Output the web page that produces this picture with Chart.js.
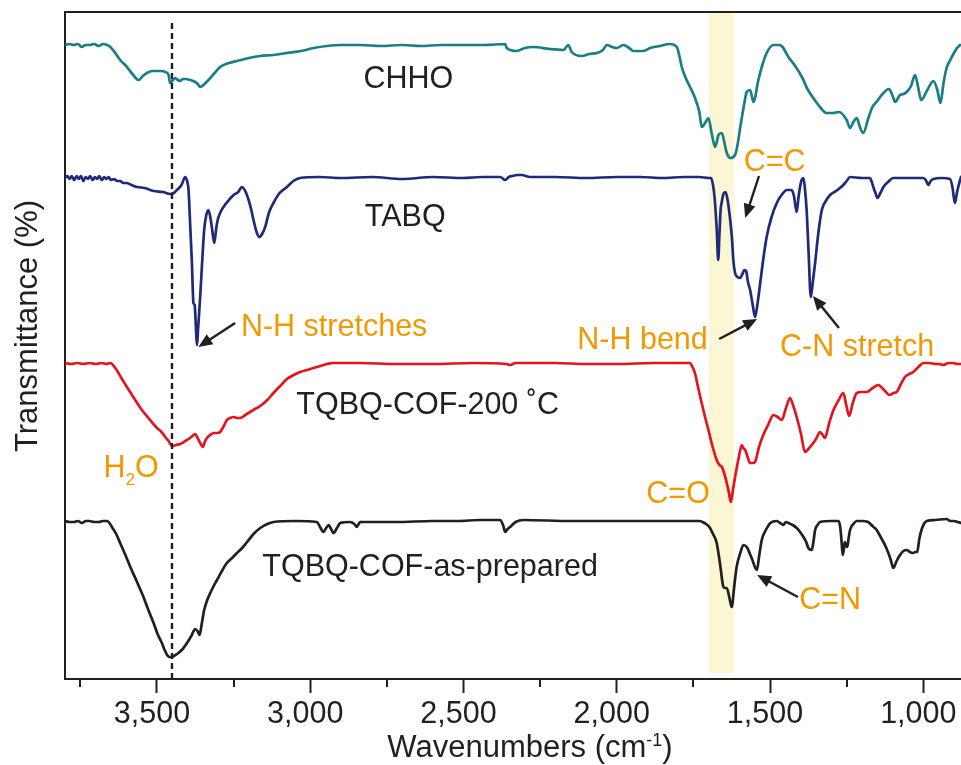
<!DOCTYPE html>
<html>
<head>
<meta charset="utf-8">
<script src="https://cdn.jsdelivr.net/npm/chart.js@4.4.1/dist/chart.umd.min.js"></script>
<style>
  html, body { margin: 0; padding: 0; background: #ffffff; overflow: hidden; }
  #wrap { width: 961px; height: 765px; }
</style>
</head>
<body>
<div id="wrap"><canvas id="c" width="961" height="765"></canvas></div>
<script>
// ---- Data (wavenumber cm-1, transmittance in arbitrary offset units) ----
const chho = [[3800,634],[3786,635],[3772,634],[3758,635],[3745,632],[3733,634],[3720,634],[3705,635],[3690,633],[3676,635],[3663,634],[3652,632],[3636,626],[3620,619],[3598,612],[3580,605],[3560,599],[3546,603],[3533,606],[3515,608],[3500,608],[3485,608],[3473,607],[3462,604],[3457,596],[3448,599],[3440,601],[3432,599],[3424,598],[3416,600],[3408,600],[3391,599],[3375,597],[3367,595],[3359,592],[3345,595],[3332,599],[3312,606],[3294,612],[3265,616],[3239,618],[3200,621],[3163,623],[3120,624],[3076,626],[3030,628],[2989,631],[2946,633],[2900,634],[2837,634],[2770,633],[2700,634],[2641,633],[2570,634],[2500,634],[2430,634],[2364,635],[2359,631],[2326,628],[2300,631],[2272,632],[2220,630],[2174,629],[2158,634],[2147,627],[2114,623],[2090,625],[2065,626],[2045,629],[2032,634],[2015,632],[2000,631],[1978,634],[1960,631],[1946,628],[1913,628],[1891,631],[1860,633],[1826,635],[1804,632],[1795,622],[1788,612],[1775,601],[1761,592],[1750,585],[1739,576],[1730,566],[1723,552],[1712,556],[1701,561],[1690,545],[1679,532],[1668,544],[1657,546],[1648,535],[1641,526],[1630,521],[1614,524],[1605,536],[1597,552],[1586,572],[1576,587],[1565,589],[1554,577],[1538,599],[1525,614],[1511,626],[1489,634],[1470,634],[1459,632],[1440,622],[1418,613],[1396,602],[1378,590],[1359,581],[1337,572],[1315,566],[1295,566],[1275,567],[1250,559],[1239,551],[1228,557],[1217,561],[1207,552],[1196,546],[1180,560],[1166,572],[1150,578],[1136,584],[1112,590],[1100,583],[1092,577],[1076,584],[1065,585],[1054,587],[1040,593],[1027,604],[1017,592],[1007,579],[987,589],[967,598],[955,590],[944,576],[934,596],[924,611],[912,619],[900,626],[890,631],[880,634]];

const tabq = [[3800,501],[3792,503],[3785,500],[3778,503],[3770,499],[3762,503],[3755,500],[3748,503],[3740,498],[3733,502],[3725,500],[3718,503],[3710,499],[3702,502],[3695,500],[3688,503],[3680,499],[3672,502],[3665,500],[3658,502],[3650,499],[3640,500],[3630,498],[3620,498],[3610,496],[3600,496],[3583,494],[3565,492],[3540,491],[3511,488],[3480,487],[3457,485],[3445,486],[3435,489],[3420,494],[3408,502],[3400,496],[3397,489],[3391,450],[3386,416],[3381,376],[3377,374],[3373,352],[3370,334],[3365,354],[3359,382],[3352,420],[3346,449],[3339,464],[3332,469],[3326,462],[3321,452],[3313,436],[3308,447],[3304,456],[3294,466],[3283,472],[3265,479],[3250,484],[3235,487],[3223,492],[3212,488],[3201,479],[3193,470],[3185,459],[3175,447],[3166,442],[3157,445],[3147,452],[3135,466],[3120,476],[3100,486],[3076,492],[3055,498],[3033,501],[2970,502],[2900,501],[2800,502],[2700,500],[2600,502],[2500,501],[2440,502],[2380,502],[2364,499],[2352,502],[2341,503],[2325,504],[2310,504],[2283,502],[2200,502],[2100,501],[2000,502],[1924,502],[1850,501],[1780,502],[1730,502],[1700,501],[1692,501],[1686,494],[1681,482],[1674,450],[1669,419],[1665,445],[1661,470],[1658,476],[1652,485],[1645,487],[1639,480],[1631,462],[1624,440],[1620,420],[1614,406],[1606,402],[1598,401],[1590,405],[1584,409],[1578,408],[1572,397],[1565,389],[1557,375],[1549,362],[1541,375],[1532,396],[1522,420],[1511,442],[1495,462],[1478,476],[1460,485],[1445,489],[1429,489],[1422,483],[1413,467],[1407,482],[1402,492],[1397,499],[1391,501],[1386,490],[1380,466],[1374,425],[1367,382],[1360,398],[1353,416],[1342,447],[1331,469],[1318,478],[1304,484],[1280,489],[1261,494],[1250,498],[1239,502],[1200,501],[1174,501],[1168,497],[1163,492],[1156,486],[1150,481],[1140,486],[1130,492],[1115,497],[1098,501],[1050,501],[1000,501],[992,499],[984,494],[976,498],[967,500],[940,501],[913,500],[905,492],[897,476],[891,485],[886,492],[881,498],[877,502]];

const cof200 = [[3800,316],[3780,315],[3760,316],[3740,315],[3720,316],[3700,315],[3680,316],[3665,315],[3652,316],[3636,311],[3618,302],[3598,292],[3575,281],[3554,271],[3528,261],[3500,251],[3485,247],[3473,242],[3462,238],[3451,233],[3438,234],[3424,235],[3412,237],[3402,239],[3388,242],[3375,245],[3369,242],[3364,239],[3357,235],[3350,232],[3344,237],[3337,241],[3326,244],[3315,246],[3304,246],[3294,247],[3282,253],[3272,259],[3261,261],[3250,262],[3238,261],[3228,261],[3212,264],[3196,267],[3180,270],[3163,273],[3140,279],[3120,286],[3098,293],[3076,300],[3054,304],[3033,307],[3000,310],[2967,313],[2945,315],[2924,316],[2880,316],[2837,316],[2720,315],[2600,315],[2470,316],[2360,315],[2348,314],[2330,316],[2200,316],[2100,315],[2000,315],[1880,316],[1761,316],[1753,312],[1745,306],[1735,292],[1723,276],[1712,262],[1701,249],[1688,233],[1674,219],[1665,214],[1657,212],[1649,205],[1641,196],[1634,186],[1628,177],[1621,189],[1614,202],[1603,220],[1592,234],[1587,231],[1581,229],[1573,222],[1565,216],[1556,216],[1549,217],[1536,232],[1522,244],[1505,255],[1489,264],[1475,262],[1462,259],[1448,271],[1435,281],[1424,273],[1413,262],[1399,245],[1386,227],[1375,230],[1364,234],[1350,240],[1337,247],[1328,244],[1321,241],[1307,256],[1293,269],[1276,279],[1261,286],[1252,275],[1242,263],[1230,276],[1217,286],[1200,287],[1185,287],[1165,291],[1147,294],[1128,289],[1109,284],[1098,286],[1087,287],[1073,295],[1060,302],[1046,305],[1033,307],[1016,312],[999,316],[980,316],[960,315],[948,315],[935,314],[918,316],[902,316],[890,315],[877,315]];

const cofPrep = [[3800,158],[3785,157],[3770,157],[3758,158],[3745,156],[3732,158],[3720,158],[3705,157],[3690,157],[3676,158],[3663,158],[3655,156],[3647,152],[3633,145],[3620,136],[3603,124],[3587,112],[3565,97],[3544,82],[3528,69],[3511,56],[3498,45],[3484,36],[3475,29],[3467,24],[3459,22],[3451,22],[3440,24],[3430,26],[3416,30],[3402,36],[3388,43],[3375,50],[3368,48],[3361,44],[3354,55],[3346,69],[3336,79],[3326,86],[3315,93],[3304,99],[3290,107],[3272,116],[3255,121],[3239,126],[3222,131],[3206,137],[3185,145],[3163,151],[3140,155],[3120,157],[3050,158],[2978,157],[2968,152],[2957,147],[2948,151],[2940,154],[2932,150],[2924,146],[2913,151],[2902,156],[2870,157],[2856,155],[2848,152],[2842,155],[2837,157],[2720,157],[2600,158],[2520,158],[2446,159],[2380,159],[2370,153],[2364,147],[2356,150],[2348,152],[2330,157],[2304,159],[2150,158],[2000,158],[1870,158],[1730,158],[1714,156],[1698,152],[1686,145],[1674,136],[1663,115],[1652,92],[1647,91],[1641,91],[1633,82],[1625,72],[1617,92],[1609,112],[1597,126],[1587,134],[1576,132],[1560,121],[1543,109],[1535,124],[1527,139],[1512,150],[1499,156],[1478,158],[1467,156],[1457,154],[1448,157],[1440,156],[1426,154],[1413,151],[1402,147],[1391,142],[1382,137],[1375,131],[1364,129],[1358,138],[1353,149],[1345,154],[1337,157],[1300,158],[1277,158],[1272,154],[1269,146],[1266,135],[1263,124],[1259,130],[1256,137],[1252,134],[1248,132],[1244,140],[1239,149],[1228,155],[1217,158],[1200,158],[1180,157],[1166,153],[1152,149],[1141,143],[1130,137],[1122,132],[1114,126],[1106,119],[1098,111],[1087,118],[1076,124],[1065,128],[1054,129],[1044,127],[1033,126],[1026,127],[1020,127],[1013,140],[1006,149],[998,155],[989,158],[960,159],[924,160],[912,158],[900,158],[888,157],[877,156]];

const xMajorTicks = [3500, 3000, 2500, 2000, 1500, 1000];
const xMinorTicks = [3750, 3250, 2750, 2250, 1750, 1250];
const dashedLine = [[3451, 0], [3451, 659]];
const band = [1699, 1617, 667, 6]; // wn from, wn to, top, bottom

const seriesLabels = [["CHHO", 2680, 602], ["TABQ", 2690, 464], ["TQBQ-COF-200 \u02DAC", 2617, 276], ["TQBQ-COF-as-prepared", 2609, 114]];
const peakLabels = [["C=C", 1485, 519], ["N-H stretches", 2922, 354], ["N-H bend", 1916, 341], ["C-N stretch", 1216, 334], ["C=O", 1800, 187], ["C=N", 1304, 81]];
const waterLabel = [3584, 213];
const arrows = [[1536, 503, 1581, 461], [3245, 356, 3365, 332], [1666, 340, 1542, 360], [1275, 351, 1360, 383], [1409, 82, 1542, 104]];

const FONT = "'Liberation Sans', Arial, Helvetica, sans-serif";
const INK = '#231F20';
const ORANGE = '#F39800';

const toPts = arr => arr.map(p => ({x: p[0], y: p[1]}));

const decor = {
  id: 'decor',
  beforeDatasetsDraw(chart) {
    const {ctx, scales: {x, y}} = chart;
    const x1 = x.getPixelForValue(band[0]), x2 = x.getPixelForValue(band[1]);
    const y1 = y.getPixelForValue(band[2]), y2 = y.getPixelForValue(band[3]);
    ctx.save();
    ctx.fillStyle = '#FBF6D3';
    ctx.fillRect(Math.min(x1, x2), y1, Math.abs(x2 - x1), y2 - y1);
    ctx.restore();
  },
  afterDraw(chart) {
    const {ctx, chartArea: ca, scales: {x, y}} = chart;
    ctx.save();
    // top frame line
    ctx.strokeStyle = INK; ctx.lineWidth = 2;
    ctx.beginPath(); ctx.moveTo(ca.left - 1, ca.top); ctx.lineTo(ca.right, ca.top); ctx.stroke();
    // minor ticks
    xMinorTicks.forEach(v => {
      const px = Math.round(x.getPixelForValue(v));
      ctx.beginPath(); ctx.moveTo(px, ca.bottom); ctx.lineTo(px, ca.bottom + 8); ctx.stroke();
    });
    const size = 30.5;
    const label = (t, w, v, color) => {
      ctx.font = size + 'px ' + FONT;
      ctx.fillStyle = color; ctx.textAlign = 'center'; ctx.textBaseline = 'alphabetic';
      ctx.fillText(t, x.getPixelForValue(w), y.getPixelForValue(v) + 0.358 * size);
    };
    seriesLabels.forEach(l => label(l[0], l[1], l[2], INK));
    peakLabels.forEach(l => label(l[0], l[1], l[2], ORANGE));
    // H2O with subscript
    {
      const cx = x.getPixelForValue(waterLabel[0]);
      const base = y.getPixelForValue(waterLabel[1]) + 0.358 * size;
      ctx.textAlign = 'left'; ctx.fillStyle = ORANGE;
      ctx.font = size + 'px ' + FONT; const wH = ctx.measureText('H').width, wO = ctx.measureText('O').width;
      ctx.font = '17px ' + FONT; const w2 = ctx.measureText('2').width;
      let sx = cx - (wH + w2 + wO) / 2;
      ctx.font = size + 'px ' + FONT; ctx.fillText('H', sx, base); sx += wH;
      ctx.font = '17px ' + FONT; ctx.fillText('2', sx, base + 8); sx += w2;
      ctx.font = size + 'px ' + FONT; ctx.fillText('O', sx, base);
    }
    // arrows
    ctx.strokeStyle = INK; ctx.fillStyle = INK; ctx.lineWidth = 2.4;
    arrows.forEach(a => {
      const x0 = x.getPixelForValue(a[0]), y0 = y.getPixelForValue(a[1]);
      const x1 = x.getPixelForValue(a[2]), y1 = y.getPixelForValue(a[3]);
      const ang = Math.atan2(y1 - y0, x1 - x0);
      const L = 14, H = 6;
      const bx = x1 - L * Math.cos(ang), by = y1 - L * Math.sin(ang);
      ctx.beginPath(); ctx.moveTo(x0, y0); ctx.lineTo(bx + 2 * Math.cos(ang), by + 2 * Math.sin(ang)); ctx.stroke();
      ctx.beginPath();
      ctx.moveTo(x1, y1);
      ctx.lineTo(bx + H * Math.sin(ang), by - H * Math.cos(ang));
      ctx.lineTo(bx - H * Math.sin(ang), by + H * Math.cos(ang));
      ctx.closePath(); ctx.fill();
    });
    // x-axis title with superscript
    {
      ctx.fillStyle = INK; ctx.textAlign = 'left'; ctx.textBaseline = 'alphabetic';
      const base = 757;
      ctx.font = '31px ' + FONT;
      const a = 'Wavenumbers (cm', c = ')';
      const wa = ctx.measureText(a).width, wc = ctx.measureText(c).width;
      ctx.font = '18px ' + FONT; const wb = ctx.measureText('-1').width;
      let sx = 530 - (wa + wb + wc) / 2;
      ctx.font = '31px ' + FONT; ctx.fillText(a, sx, base); sx += wa;
      ctx.font = '18px ' + FONT; ctx.fillText('-1', sx, base - 11); sx += wb;
      ctx.font = '31px ' + FONT; ctx.fillText(c, sx, base);
    }
    // y-axis title
    ctx.translate(37, 326); ctx.rotate(-Math.PI / 2);
    ctx.font = '31px ' + FONT; ctx.fillStyle = INK; ctx.textAlign = 'center'; ctx.textBaseline = 'alphabetic';
    ctx.fillText('Transmittance (%)', 0, 0);
    ctx.restore();
  }
};

const lineDs = (data, color) => ({data: toPts(data), borderColor: color, borderWidth: 2.7, pointRadius: 0, cubicInterpolationMode: 'monotone', fill: false, borderJoinStyle: 'round', borderCapStyle: 'round'});

new Chart(document.getElementById('c'), {
  type: 'line',
  data: {
    datasets: [
      {data: toPts(dashedLine), borderColor: INK, borderWidth: 2.4, borderDash: [6, 4], pointRadius: 0, fill: false},
      lineDs(chho, '#1A7E88'),
      lineDs(tabq, '#1F2B79'),
      lineDs(cof200, '#E3141E'),
      lineDs(cofPrep, '#231F20')
    ]
  },
  options: {
    responsive: false, animation: false, devicePixelRatio: 1,
    layout: {padding: {top: 12, right: 0, left: 0, bottom: 0}},
    plugins: {legend: {display: false}, tooltip: {enabled: false}, title: {display: false}},
    scales: {
      x: {
        type: 'linear', reverse: true, min: 877, max: 3800,
        afterBuildTicks: s => { s.ticks = xMajorTicks.map(v => ({value: v})); },
        ticks: {autoSkip: false, maxRotation: 0, minRotation: 0, color: INK, padding: 3, labelOffset: -5,
                font: {family: FONT, size: 30.5}, callback: v => v.toLocaleString('en-US')},
        grid: {display: true, drawOnChartArea: false, drawTicks: true, tickLength: 14, tickWidth: 2, tickColor: INK},
        border: {display: true, color: INK, width: 2},
        afterFit: s => { s.height = 86; s.paddingLeft = 0; s.paddingRight = 0; }
      },
      y: {
        min: 0, max: 667,
        ticks: {display: false},
        grid: {display: false, drawTicks: false},
        border: {display: true, color: INK, width: 2},
        afterFit: s => { s.width = 65; }
      }
    }
  },
  plugins: [decor]
});
</script>
</body>
</html>
